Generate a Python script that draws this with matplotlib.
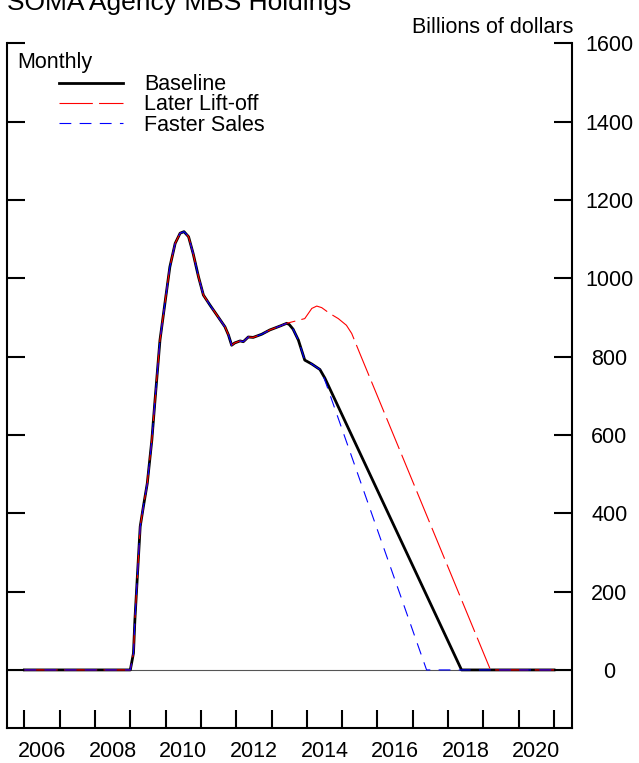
import matplotlib
matplotlib.use('Agg')
import matplotlib.pyplot as plt
import numpy as np
from matplotlib.ticker import FixedLocator, NullFormatter

plt.rcParams['font.family'] = ['Liberation Sans', 'DejaVu Sans']
plt.rcParams['lines.scale_dashes'] = False

# path shared by all three scenarios (year, billions of dollars)
common_years = [2006.0, 2009.0, 2009.09, 2009.13, 2009.21, 2009.28, 2009.37, 2009.48,
                2009.61, 2009.70, 2009.84, 2009.98, 2010.12, 2010.27, 2010.41, 2010.52,
                2010.65, 2010.78, 2010.93, 2011.07, 2011.26, 2011.49, 2011.68, 2011.78,
                2011.87, 2011.96, 2012.11, 2012.20, 2012.34, 2012.48, 2012.72, 2012.95,
                2013.24, 2013.43]
common_vals = [0, 0, 43, 128, 255, 366, 417, 476,
               587, 689, 842, 936, 1029, 1089, 1115, 1119,
               1106, 1063, 1004, 957, 931, 901, 876, 855,
               829, 835, 840, 838, 850, 849, 857, 868,
               878, 885]

baseline_years = [2013.50, 2013.61, 2013.76, 2013.94, 2014.14, 2014.37, 2014.51, 2018.38, 2021.0]
baseline_vals = [882, 870, 842, 791, 781, 767, 745, 0, 0]

later_years = [2013.94, 2014.14, 2014.28, 2014.42, 2014.65, 2014.89, 2015.12, 2015.27,
               2015.50, 2019.20, 2021.0]
later_vals = [897, 923, 929, 925, 910, 897, 880, 859, 808, 0, 0]

faster_years = [2013.50, 2013.61, 2013.76, 2013.94, 2014.14, 2014.37, 2014.45, 2017.39, 2021.0]
faster_vals = [882, 870, 842, 791, 781, 767, 755, 0, 0]

year_ticks = list(range(2006, 2022))
year_labels = ['2006', '2008', '2010', '2012', '2014', '2016', '2018', '2020']
y_ticks = [0, 200, 400, 600, 800, 1000, 1200, 1400, 1600]

FS = 15.5

fig = plt.figure(figsize=(6.39, 7.63), dpi=100)
ax = fig.add_axes([0.0105, 0.0455, 0.8842, 0.8978])

ax.axhline(0, color='#555555', lw=0.8, zorder=1)
ax.plot(common_years + baseline_years, common_vals + baseline_vals,
        color='black', lw=2.0, zorder=3, label='Baseline')
ax.plot(common_years + later_years, common_vals + later_vals,
        color='red', lw=0.8, dashes=(24, 4.5), zorder=4, label='Later Lift-off')
ax.plot(common_years + faster_years, common_vals + faster_vals,
        color='blue', lw=0.8, dashes=(8.5, 6), zorder=5, label='Faster Sales')

ax.set_xlim(2005.5, 2021.5)
ax.set_ylim(-149, 1600)

ax.spines['top'].set_visible(False)
for s in ['left', 'right', 'bottom']:
    ax.spines[s].set_linewidth(1.5)

# x: year boundary ticks, labels centred mid-year
ax.xaxis.set_major_locator(FixedLocator(year_ticks))
ax.xaxis.set_major_formatter(NullFormatter())
ax.set_xticks([int(l) + 0.5 for l in year_labels], minor=True)
ax.set_xticklabels(year_labels, minor=True)
ax.tick_params(axis='x', which='major', direction='in', length=12.7, width=1.5)
ax.tick_params(axis='x', which='minor', length=0, pad=9, labelsize=FS)

# y: inward ticks both sides, labels on the right
ax.yaxis.set_major_locator(FixedLocator(y_ticks))
ax.set_yticklabels([str(v) for v in y_ticks])
ax.yaxis.set_minor_locator(FixedLocator([1600]))
ax.tick_params(axis='y', which='major', direction='in', left=True, right=True,
               labelleft=False, labelright=True, length=13, width=1.5,
               pad=27, labelsize=FS)
ax.tick_params(axis='y', which='minor', direction='in', left=True, right=True,
               length=26, width=1.5)
for tick in ax.yaxis.get_major_ticks():
    tick.label2.set_horizontalalignment('center')

ax.text(0.018, 0.9712, 'Monthly', transform=ax.transAxes, ha='left', va='center',
        fontsize=FS)
ax.legend(loc='upper left', bbox_to_anchor=(0.0926, 0.9547), frameon=False,
          borderpad=0, borderaxespad=0, handlelength=2.97, handletextpad=0.97,
          labelspacing=-0.04, fontsize=FS)

fig.text(573 / 639, 1 - 33 / 763, 'Billions of dollars', ha='right', va='baseline',
         fontsize=FS)
fig.text(7 / 639, 1 - 10 / 763, 'SOMA Agency MBS Holdings', ha='left', va='baseline',
         fontsize=19)

fig.savefig('out.png', dpi=100)
